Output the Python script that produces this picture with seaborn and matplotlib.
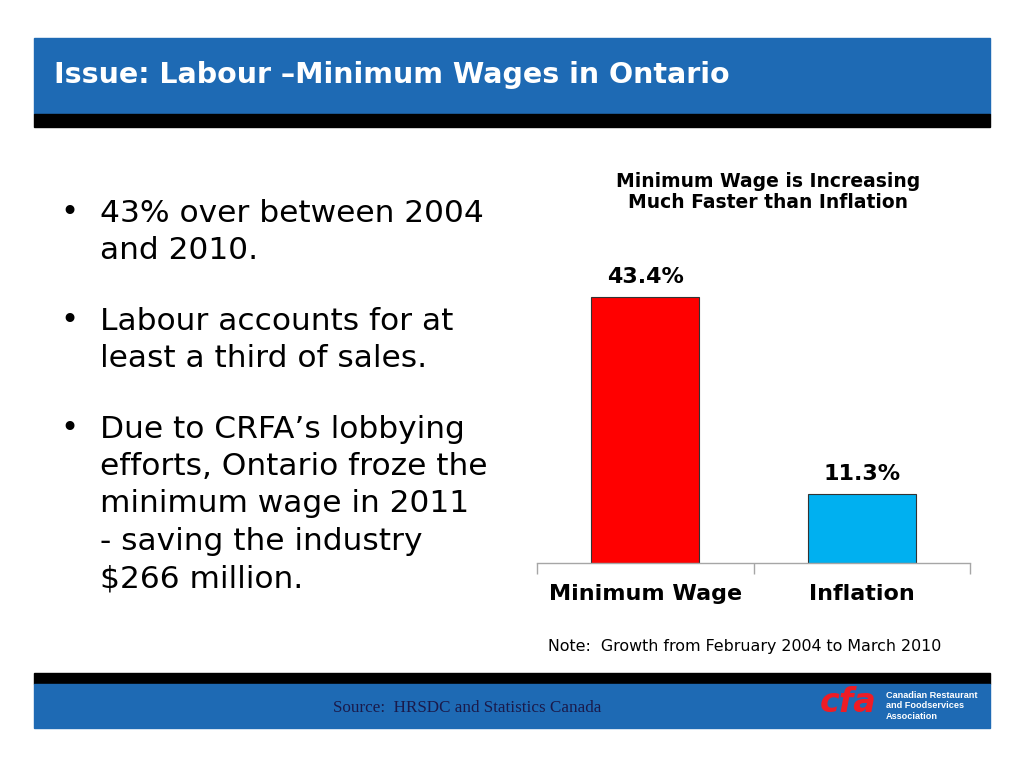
import matplotlib
matplotlib.use("Agg")
import matplotlib.pyplot as plt
import seaborn as sns
import pandas as pd
from matplotlib.patches import Rectangle

categories = ["Minimum Wage", "Inflation"]
growth = [43.4, 11.3]
value_labels = ["43.4%", "11.3%"]
bar_colors = ["#FF0000", "#00B0F0"]

bullets = [
    ["43% over between 2004", "and 2010."],
    ["Labour accounts for at", "least a third of sales."],
    ["Due to CRFA\u2019s lobbying", "efforts, Ontario froze the",
     "minimum wage in 2011", "- saving the industry", "$266 million."],
]

sns.set_style("white")
plt.rcParams['font.family'] = ['DejaVu Sans']
plt.rcParams['text.color'] = 'black'
plt.rcParams['xtick.color'] = 'black'

W, H = 1024, 768
fig = plt.figure(figsize=(W / 100, H / 100), dpi=100)
blue = "#1E6AB4"


def px_rect(x0, y0, x1, y1, color):
    fig.patches.append(Rectangle((x0 / W, 1 - y1 / H), (x1 - x0) / W, (y1 - y0) / H,
                                 transform=fig.transFigure, color=color, zorder=0))


# header and footer bands
px_rect(34, 38, 990, 114, blue)
px_rect(34, 114, 990, 127, "black")
px_rect(34, 673, 990, 684, "black")
px_rect(34, 684, 990, 728, blue)

fig.text(54 / W, 1 - 75 / H, "Issue: Labour \u2013Minimum Wages in Ontario",
         color="white", fontsize=20.5, fontweight="bold", va="center", ha="left")

# bullet text
y = 213
for para in bullets:
    fig.text(60 / W, 1 - y / H, "\u2022", fontsize=22, va="center", ha="left")
    for line in para:
        fig.text(100 / W, 1 - y / H, line, fontsize=22.5, va="center", ha="left")
        y += 37.5
    y += 33

# bar chart
ymax = 50
ax_bottom, ax_left, ax_right = 563, 537, 970
ax_top = ax_bottom - ymax * 266 / 43.4
ax = fig.add_axes([ax_left / W, 1 - ax_bottom / H, (ax_right - ax_left) / W,
                   (ax_bottom - ax_top) / H])
df = pd.DataFrame({"category": categories, "growth": growth})
sns.barplot(data=df, x="category", y="growth", hue="category", palette=bar_colors,
            saturation=1, width=0.5, edgecolor="#333333", linewidth=0.8,
            legend=False, ax=ax)
ax.set_ylim(0, ymax)
ax.set_xlim(-0.5, len(categories) - 0.5)
for i, lab in enumerate(value_labels):
    ax.annotate(lab, (i, growth[i]), xytext=(0, 7), textcoords="offset points",
                ha="center", va="bottom", fontsize=16, fontweight="bold")
for s in ["top", "right", "left"]:
    ax.spines[s].set_visible(False)
ax.spines["bottom"].set_color("#A6A6A6")
ax.spines["bottom"].set_linewidth(1)
ax.set_yticks([])
ax.set_xticks([-0.5, 0.5, 1.5], minor=True)
ax.tick_params(axis="x", which="minor", bottom=True, length=8, width=1,
               color="#A6A6A6", direction="out")
ax.tick_params(axis="x", which="major", length=0, pad=15, labelsize=16)
for t in ax.get_xticklabels():
    t.set_fontweight("bold")
ax.set_xlabel("")
ax.set_ylabel("")

fig.text(768 / W, 1 - 192 / H, "Minimum Wage is Increasing\nMuch Faster than Inflation",
         ha="center", va="center", fontsize=13.5, fontweight="bold", linespacing=1.15)
fig.text(548 / W, 1 - 646 / H, "Note:  Growth from February 2004 to March 2010",
         ha="left", va="center", fontsize=11.4)

# footer
fig.text(467 / W, 1 - 708 / H, "Source:  HRSDC and Statistics Canada", ha="center",
         va="center", fontsize=12.3, color="#1A1A4A", family="Liberation Serif")
fig.text(848 / W, 1 - 703 / H, "cfa", ha="center", va="center", fontsize=24,
         fontweight="bold", style="italic", color="#EE1C25")
fig.text(886 / W, 1 - 706 / H, "Canadian Restaurant\nand Foodservices\nAssociation",
         ha="left", va="center", fontsize=6.6, fontweight="bold", color="white",
         linespacing=1.2, family="Liberation Sans")

fig.savefig("out.png", dpi=100)
